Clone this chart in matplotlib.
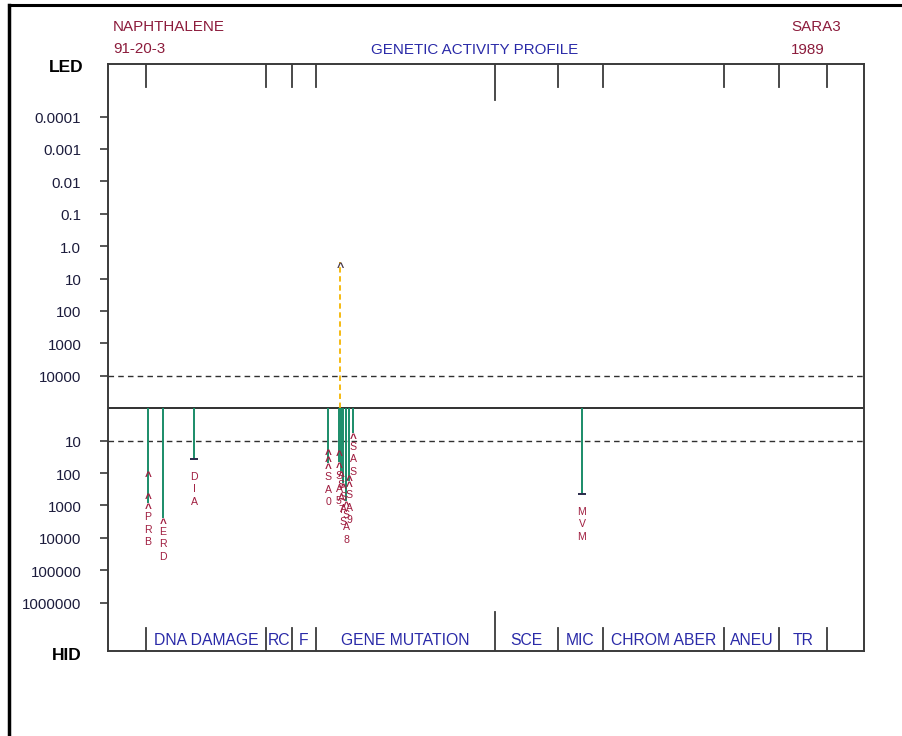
import matplotlib
matplotlib.use('Agg')
import matplotlib.pyplot as plt
from matplotlib.lines import Line2D

plt.rcParams['font.family'] = ['Liberation Sans', 'DejaVu Sans']

# ---------------- data ----------------
led_labels = ['0.0001', '0.001', '0.01', '0.1', '1.0', '10', '100', '1000', '10000']
led_levels = [9, 8, 7, 6, 5, 4, 3, 2, 1]
hid_labels = ['10', '100', '1000', '10000', '100000', '1000000']
hid_levels = [-1, -2, -3, -4, -5, -6]

category_names = ['DNA DAMAGE', 'RC', 'F', 'GENE MUTATION', 'SCE', 'MIC',
                  'CHROM ABER', 'ANEU', 'TR']
category_bounds = [38, 158, 184, 208, 387, 450, 495, 616, 671, 719]
major_bound = 387

# negative results (drawn below the zero line, HID side)
neg_codes = ['PRB', 'ERD', 'DIA', 'SA0', 'SA5', 'SA7', 'SAS', 'SA8', 'SA9', 'SAS', 'MVM']
neg_x = [40, 55, 86, 220, 231, 233, 235, 238, 241, 245, 474]
neg_values = [[-1.93, -2.62, -2.93], [-3.38], [-1.56], [-1.27, -1.48, -1.70],
              [-1.30, -1.66], [-1.95], [-2.30], [-2.85], [-2.05, -2.25],
              [-0.75], [-2.64]]
neg_marks = ['^', '^', 'cap', '^', '^', '^', '^', '^', '^', '^', 'cap']

# positive results (drawn above the zero line, LED side)
pos_x = [232]
pos_values = [4.52]

# ---------------- figure ----------------
W, H = 902, 736
fig = plt.figure(figsize=(W / 100, H / 100), dpi=100)
ax = fig.add_axes([108 / W, 1 - 651 / H, 756 / W, 587 / H])

y_top, y_bot = 10.62, -7.49
ax.set_xlim(0, 756)
ax.set_ylim(y_bot, y_top)
px = 587 / (y_top - y_bot)  # pixels per data unit

for s in ax.spines.values():
    s.set_color('#3a3a3a')
    s.set_linewidth(1.4)

ax.set_xticks([])
ax.set_yticks(led_levels + hid_levels)
ax.set_yticklabels([])
ax.tick_params(axis='y', direction='out', length=5.8, width=1.2, color='#3a3a3a')

lbl_color = '#1c1c3c'
for lev, lab in zip(led_levels + hid_levels, led_labels + hid_labels):
    ax.annotate(lab, xy=(0, lev), xycoords=('axes fraction', 'data'),
                xytext=(-19.2, -1.8), textcoords='offset points',
                ha='right', va='center', fontsize=10.9, color=lbl_color)

# reference lines
ax.axhline(0, color='#202020', lw=1.3)
for lv in (1, -1):
    ax.axhline(lv, color='#303030', lw=1.0, dashes=(4, 3))

# category boundaries ticks (top & bottom)
short = 23 / px
long_top = 36 / px
long_bot = 39 / px
for b in category_bounds:
    if b == major_bound:
        ax.plot([b, b], [y_top, y_top - long_top], color='#3a3a3a', lw=1.3)
        ax.plot([b, b], [y_bot, y_bot + long_bot], color='#3a3a3a', lw=1.3)
    else:
        ax.plot([b, b], [y_top, y_top - short], color='#3a3a3a', lw=1.3)
        ax.plot([b, b], [y_bot, y_bot + short], color='#3a3a3a', lw=1.3)

cat_color = '#2a2aa8'
for i, name in enumerate(category_names):
    xc = (category_bounds[i] + category_bounds[i + 1]) / 2
    ax.text(xc, 0.0187, name, transform=ax.get_xaxis_transform(),
            ha='center', va='center', fontsize=11.3, color=cat_color)

# bars
green = '#1a8c68'
red = '#a01e40'
for code, x, vals, mk in zip(neg_codes, neg_x, neg_values, neg_marks):
    end = min(vals)
    ax.plot([x, x], [0, end], color=green, lw=1.4, solid_capstyle='butt')
    if mk == 'cap':
        ax.plot([x], [end], marker='_', markersize=6, mew=1.4, color='#2a2a4a')
        first = 18
    else:
        for v in vals:
            ax.text(x, v, '^', ha='center', va='top', fontsize=8.5, color=red,
                    fontweight='bold')
        first = 14
    for k, ch in enumerate(code):
        ax.annotate(ch, xy=(x, end), xytext=(0, -(first + 12.5 * k) * 0.72),
                    textcoords='offset points', ha='center', va='center',
                    fontsize=7.6, color=red)

for x, v in zip(pos_x, pos_values):
    ax.plot([x, x], [0, v], color='#f5b400', lw=1.3, dashes=(3, 2))
    ax.text(x, v, '^', ha='center', va='top', fontsize=9, color='#4a3a4a',
            fontweight='bold')

# titles
dark_red = '#8c1c3c'
fig.text(113 / W, 1 - 27 / H, 'NAPHTHALENE', ha='left', va='center', fontsize=10.9, color=dark_red)
fig.text(113 / W, 1 - 49 / H, '91-20-3', ha='left', va='center', fontsize=10.9, color=dark_red)
fig.text(791 / W, 1 - 27 / H, 'SARA3', ha='left', va='center', fontsize=10.9, color=dark_red)
fig.text(791 / W, 1 - 50 / H, '1989', ha='left', va='center', fontsize=10.9, color=dark_red)
fig.text(475 / W, 1 - 50 / H, 'GENETIC ACTIVITY PROFILE', ha='center', va='center',
         fontsize=10.9, color=cat_color)
fig.text(66 / W, 1 - 68 / H, 'LED', ha='center', va='center', fontsize=12.5,
         fontweight='bold', color='black')
fig.text(67 / W, 1 - 656 / H, 'HID', ha='center', va='center', fontsize=12.5,
         fontweight='bold', color='black')

# outer frame
fig.add_artist(Line2D([9 / W, 9 / W], [0, 1 - 5 / H], color='black', lw=2.5,
                      transform=fig.transFigure))
fig.add_artist(Line2D([9 / W, 1], [1 - 5 / H, 1 - 5 / H], color='black', lw=2.2,
                      transform=fig.transFigure))

fig.savefig('out.png', dpi=100)
